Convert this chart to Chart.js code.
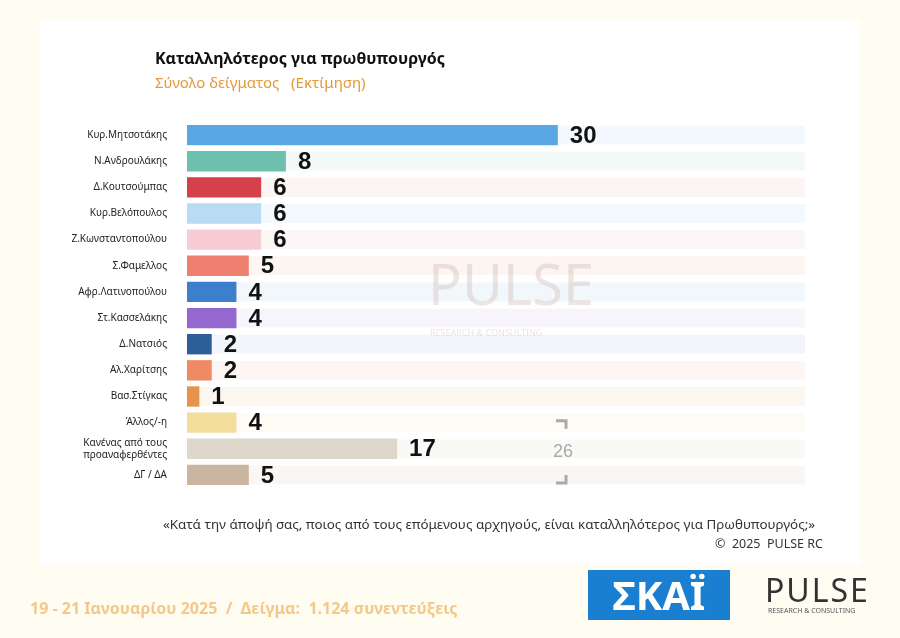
<!DOCTYPE html>
<html><head><meta charset="utf-8">
<script src="https://cdn.jsdelivr.net/npm/chart.js@4"></script>
<style>
body{margin:0;background:#fffdf2;font-family:"Noto Sans",sans-serif;}
#wrap{position:absolute;left:0;top:0;width:900px;height:638px;}
#panel{position:absolute;left:40px;top:20px;width:820px;height:545px;background:#fff;}
canvas{position:absolute;left:0;top:0;}
.t{position:absolute;white-space:nowrap;}
</style></head>
<body><div id="wrap">
<div id="panel"></div>
<canvas id="c" width="900" height="638"></canvas>
<div class="t" style="left:155px;top:47px;font-size:16px;font-weight:bold;color:#111">Καταλληλότερος για πρωθυπουργός</div>
<div class="t" style="left:155px;top:72px;font-size:15px;color:#e39a3a">Σύνολο δείγματος &nbsp;&nbsp;(Εκτίμηση)</div>
<div class="t" style="left:163px;top:515px;font-size:13.4px;color:#333">«Κατά την άποψή σας, ποιος από τους επόμενους αρχηγούς, είναι καταλληλότερος για Πρωθυπουργός;»</div>
<div class="t" style="left:715px;top:535px;font-size:12.5px;color:#333">©&nbsp; 2025&nbsp; PULSE RC</div>
<div class="t" style="left:30px;top:597px;font-size:16px;font-weight:bold;color:#f2c98a">19 - 21 Ιανουαρίου 2025 &nbsp;/&nbsp; Δείγμα:&nbsp; 1.124 συνεντεύξεις</div>
<div class="t" style="left:588px;top:570px;width:142px;height:50px;background:#1a7fd0;color:#fff;font-size:40px;line-height:50px;text-align:center;font-weight:bold">ΣΚΑΪ</div>
<div class="t" style="left:765px;top:568px;font-size:32px;color:#333;letter-spacing:2px">PULSE</div>
<div class="t" style="left:768px;top:606px;font-size:7px;color:#555">RESEARCH &amp; CONSULTING</div>
</div>
<script>
const categories = [
  "Κυρ.Μητσοτάκης", "Ν.Ανδρουλάκης", "Δ.Κουτσούμπας", "Κυρ.Βελόπουλος",
  "Ζ.Κωνσταντοπούλου", "Σ.Φαμελλος", "Αφρ.Λατινοπούλου", "Στ.Κασσελάκης",
  "Δ.Νατσιός", "Αλ.Χαρίτσης", "Βασ.Στίγκας", "Άλλος/-η",
  ["Κανένας από τους", "προαναφερθέντες"], "ΔΓ / ΔΑ"
];
const values = [30, 8, 6, 6, 6, 5, 4, 4, 2, 2, 1, 4, 17, 5];
const barColors = [
  "#5aa7e3", "#6dbfae", "#d6404b", "#b9dbf4", "#f6ccd2", "#ef7f6e", "#3c7fcb",
  "#9468cf", "#2d5e98", "#ef8a62", "#e8934d", "#f2dd9c", "#ded7cc", "#c9b5a0"
];
const bandColors = [
  "#f2f8fd", "#f2f9f7", "#fdf4f4", "#f4f9fe", "#fdf6f7", "#fdf5f2", "#f2f7fc",
  "#f7f4fc", "#f2f5fa", "#fdf6f2", "#fdf7f2", "#fdfbf3", "#faf9f6", "#f9f6f3"
];

const rowBands = {
  id: "rowBands",
  beforeDatasetsDraw(chart) {
    const { ctx, chartArea, scales } = chart;
    const h = scales.y.getPixelForValue(1) - scales.y.getPixelForValue(0);
    values.forEach((v, i) => {
      const y = scales.y.getPixelForValue(i);
      ctx.fillStyle = bandColors[i];
      ctx.fillRect(chartArea.left, y - h * 0.36, chartArea.right - chartArea.left, h * 0.72);
    });
    // watermark
    ctx.save();
    ctx.fillStyle = "rgba(200,180,170,0.35)";
    ctx.font = "56px 'Noto Sans'";
    ctx.fillText("PULSE", 428, 305);
    ctx.font = "9px 'Noto Sans'";
    ctx.fillText("RESEARCH & CONSULTING", 430, 336);
    ctx.restore();
  }
};

const valueLabels = {
  id: "valueLabels",
  afterDatasetsDraw(chart) {
    const { ctx, scales } = chart;
    ctx.save();
    ctx.fillStyle = "#111";
    ctx.font = "bold 24px 'Liberation Sans'";
    ctx.textBaseline = "middle";
    values.forEach((v, i) => {
      ctx.fillText(v, scales.x.getPixelForValue(v) + 12, scales.y.getPixelForValue(i) + 1);
    });
    // bracket 26
    const y1 = scales.y.getPixelForValue(12) - 28, y2 = scales.y.getPixelForValue(13) + 8;
    ctx.strokeStyle = "#aaa"; ctx.lineWidth = 3;
    ctx.beginPath();
    ctx.moveTo(556, y1); ctx.lineTo(566, y1); ctx.lineTo(566, y1 + 8);
    ctx.moveTo(566, y2 - 8); ctx.lineTo(566, y2); ctx.lineTo(556, y2);
    ctx.stroke();
    ctx.fillStyle = "#aaa";
    ctx.font = "18px 'Liberation Sans'";
    ctx.fillText("26", 553, (y1 + y2) / 2);
    ctx.restore();
  }
};

new Chart(document.getElementById("c"), {
  type: "bar",
  data: {
    labels: categories,
    datasets: [{ data: values, backgroundColor: barColors, borderWidth: 0, categoryPercentage: 0.78, barPercentage: 1 }]
  },
  options: {
    indexAxis: "y",
    responsive: false,
    animation: false,
    layout: { padding: { left: 40, right: 95, top: 122, bottom: 150 } },
    scales: {
      x: { min: 0, max: 50, display: false },
      y: {
        grid: { display: false },
        border: { display: false },
        ticks: { color: "#222", font: { size: 10, family: "'Noto Sans'" }, padding: 12, autoSkip: false },
        afterFit(s) { s.width = 147; }
      }
    },
    plugins: { legend: { display: false }, tooltip: { enabled: false } }
  },
  plugins: [rowBands, valueLabels]
});
</script>
</body></html>
